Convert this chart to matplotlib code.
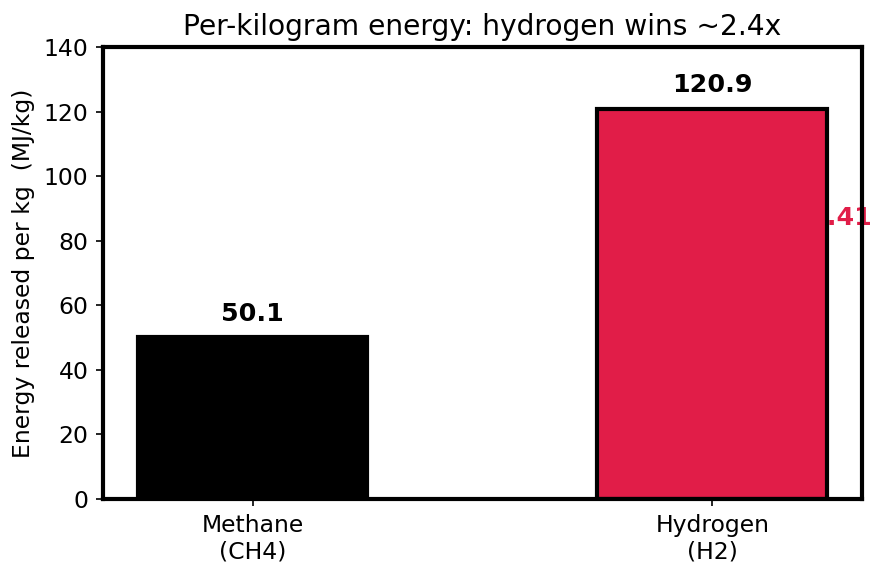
import matplotlib
matplotlib.use('Agg')
import matplotlib.pyplot as plt

fuels = ['Methane\n(CH4)', 'Hydrogen\n(H2)']
energy = [50.1, 120.9]
colors = ['#000000', '#E11D48']
ratio = energy[1] / energy[0]

fig = plt.figure(figsize=(888 / 150, 577 / 150), dpi=150)
ax = fig.add_axes([0.116, 0.1352, 0.8547, 0.7833])

# both bars get the thick black outline
ax.bar(fuels, energy, width=0.5, color=colors, edgecolor='black',
       linewidth=2, zorder=1)

for i, v in enumerate(energy):
    ax.text(i, v + 3.5, '{:.1f}'.format(v), ha='center', va='bottom',
            fontsize=12.2, fontweight='bold')

# ratio label ends up mostly hidden behind the bar
ax.text(1.346, 87, '{:.2f}'.format(ratio), ha='right', va='center',
        fontsize=12.2, fontweight='bold', color=colors[1], zorder=0.5)

ax.set_ylim(0, 140)
ax.set_ylabel('Energy released per kg  (MJ/kg)', fontsize=11.25)
ax.set_title('Per-kilogram energy: hydrogen wins ~2.4x', fontsize=13.5)
ax.tick_params(labelsize=11.25)
for s in ax.spines.values():
    s.set_linewidth(2)

fig.savefig('out.png', dpi=150)
